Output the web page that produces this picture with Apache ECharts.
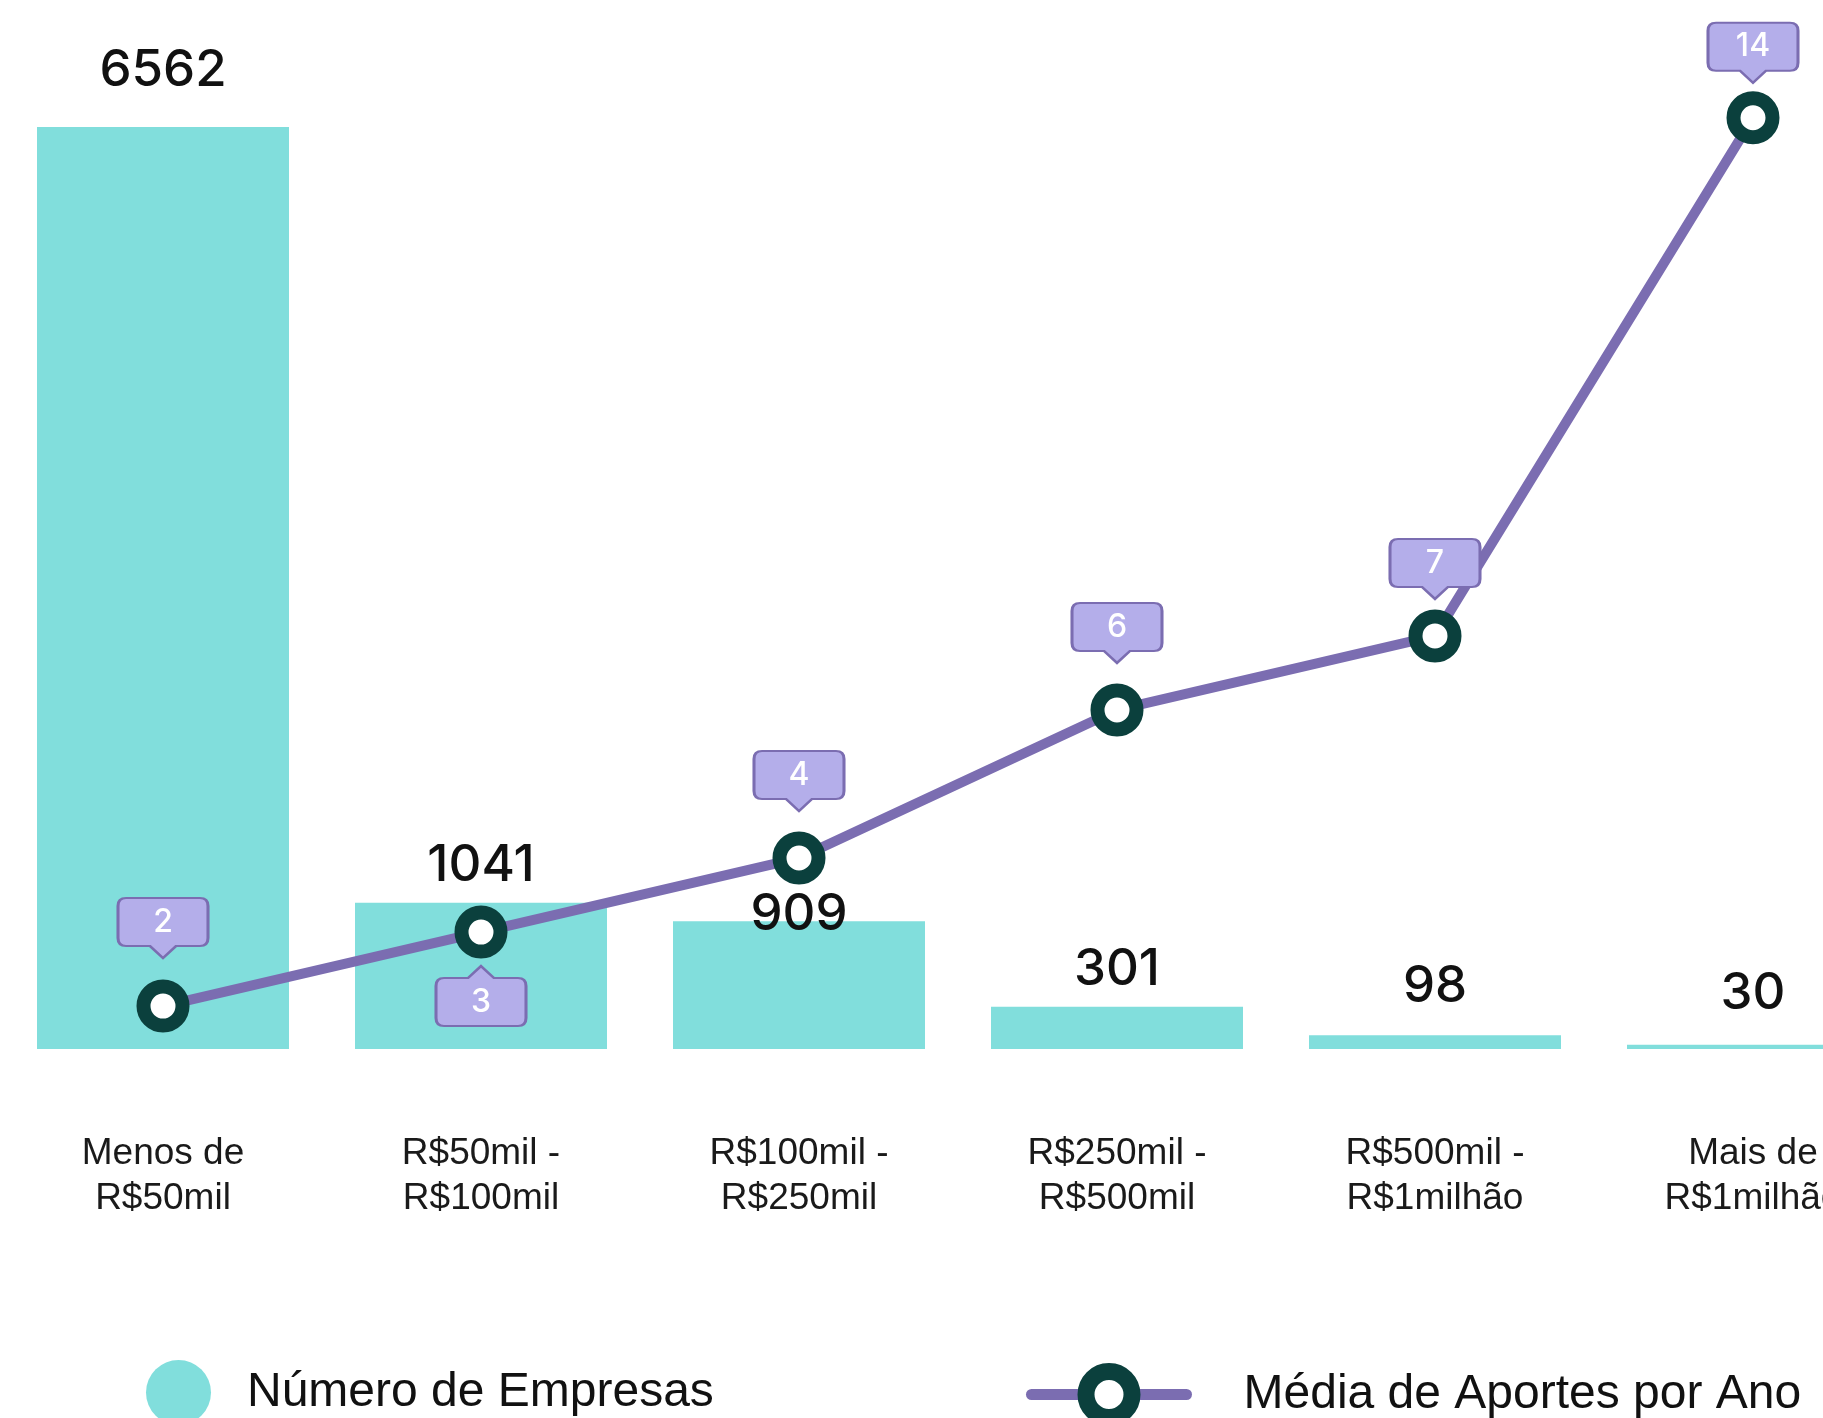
<!DOCTYPE html>
<html>
<head>
<meta charset="utf-8">
<script src="https://cdn.jsdelivr.net/npm/echarts@6/dist/echarts.min.js"></script>
<style>
html,body{margin:0;padding:0;background:#fff;overflow:hidden;width:1823px;height:1418px;}
#chart{width:1912px;height:1418px;}
</style>
</head>
<body>
<div id="chart"></div>
<script>
// ---- data ----
const categories = ['Menos de\nR$50mil', 'R$50mil -\nR$100mil', 'R$100mil -\nR$250mil', 'R$250mil -\nR$500mil', 'R$500mil -\nR$1milhão', 'Mais de\nR$1milhão'];
const empresas = [6562, 1041, 909, 301, 98, 30];
const aportes = [2, 3, 4, 6, 7, 14];
const seriesNames = ['Número de Empresas', 'Média de Aportes por Ano'];

// ---- styling helpers (not data) ----
const barLabelGap = [31, 12, -19, 12, 23, 26];
const calloutSide = ['top', 'bottom', 'top', 'top', 'top', 'top'];
const calloutGap = [48, 34, 47, 47, 37, 35];

const TEAL = '#81dedc';
const PURPLE = '#7b6db1';
const LAVENDER = '#b4aeea';
const DARK = '#0b403d';

const pathTop = 'path://M8,0 H82 Q90,0 90,8 V40 Q90,48 82,48 H58 L45,60 L32,48 H8 Q0,48 0,40 V8 Q0,0 8,0 Z';
const pathBottom = 'path://M45,0 L58,12 H82 Q90,12 90,20 V52 Q90,60 82,60 H8 Q0,60 0,52 V20 Q0,12 8,12 H32 Z';

const chart = echarts.init(document.getElementById('chart'), null, {renderer: 'canvas'});

const option = {
  animation: false,
  backgroundColor: '#ffffff',
  grid: {left: 4, right: 0, top: 100, bottom: 369, containLabel: false},
  xAxis: {
    type: 'category',
    data: categories,
    axisLine: {show: false},
    axisTick: {show: false},
    splitLine: {show: false},
    axisLabel: {
      interval: 0,
      margin: 82,
      fontSize: 37,
      lineHeight: 45,
      color: '#1a1a1a',
      fontFamily: 'Liberation Sans'
    }
  },
  yAxis: [
    {type: 'value', min: 0, max: 6754, show: false, splitLine: {show: false}},
    {type: 'value', min: 1.42, max: 14.24, show: false, splitLine: {show: false}}
  ],
  legend: [
    {
      data: [{name: seriesNames[0], icon: 'circle'}],
      left: 146, top: 1360, padding: 0,
      itemWidth: 65, itemHeight: 65,
      selectedMode: false,
      textStyle: {fontSize: 48, color: '#111', fontFamily: 'Liberation Sans', padding: [10, 0, 0, 31]}
    },
    {
      data: [{
        name: seriesNames[1],
        itemStyle: {color: '#ffffff', borderColor: DARK, borderWidth: 17},
        lineStyle: {color: PURPLE, width: 11, cap: 'round'}
      }],
      left: 1026, top: 1363, padding: 0,
      itemWidth: 155, itemHeight: 57.5,
      selectedMode: false,
      textStyle: {fontSize: 48, color: '#111', fontFamily: 'Liberation Sans', padding: [10, 0, 0, 52]}
    }
  ],
  series: [
    {
      name: seriesNames[0],
      type: 'bar',
      yAxisIndex: 0,
      barWidth: 252,
      itemStyle: {color: TEAL},
      z: 1,
      label: {
        show: true,
        position: 'top',
        fontSize: 51,
        lineHeight: 51,
        fontWeight: 500,
        fontFamily: 'Inter',
        color: '#111'
      },
      data: empresas.map((v, i) => ({value: v, label: {distance: barLabelGap[i]}}))
    },
    {
      name: seriesNames[1],
      type: 'line',
      yAxisIndex: 1,
      clip: false,
      z: 3,
      symbol: 'circle',
      symbolSize: 39,
      showAllSymbol: true,
      lineStyle: {color: PURPLE, width: 10},
      itemStyle: {color: '#ffffff', borderColor: DARK, borderWidth: 14},
      data: aportes,
      markPoint: {
        z: 5,
        itemStyle: {color: LAVENDER, borderColor: PURPLE, borderWidth: 2.5},
        label: {
          show: true,
          color: '#ffffff',
          fontSize: 32,
          fontWeight: 500,
          fontFamily: 'Inter',
          formatter: p => String(p.value)
        },
        data: aportes.map((v, i) => ({
          coord: [i, v],
          value: v,
          symbol: calloutSide[i] === 'top' ? pathTop : pathBottom,
          symbolSize: [90, 60],
          symbolOffset: [0, calloutSide[i] === 'top' ? -(calloutGap[i] + 30) : (calloutGap[i] + 30)],
          label: {offset: [0, calloutSide[i] === 'top' ? -6 : 6]}
        }))
      }
    }
  ]
};

chart.setOption(option);
</script>
</body>
</html>
